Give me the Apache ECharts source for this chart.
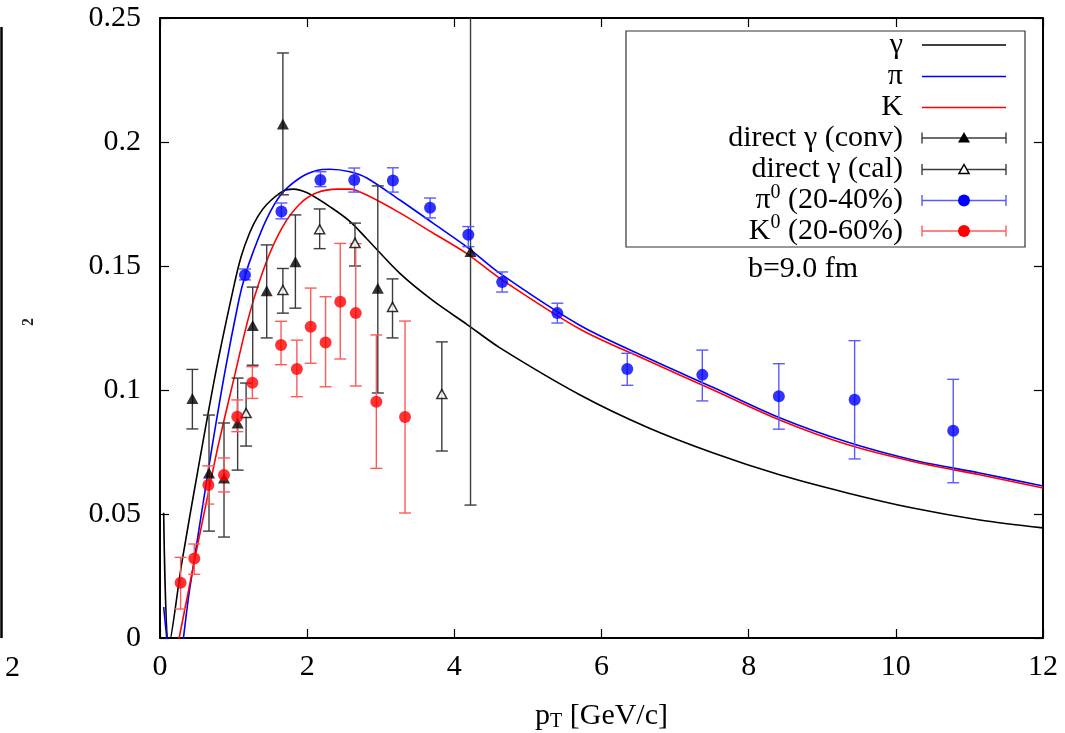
<!DOCTYPE html>
<html><head><meta charset="utf-8">
<script src="https://cdn.jsdelivr.net/npm/echarts@6/dist/echarts.min.js"></script>
<style>html,body{margin:0;padding:0;background:#fff}#c{width:1065px;height:733px}</style>
</head><body><div id="c"></div>
<script>
// ---- tick values ----
const xTickMin = 0, xTickMax = 12, xTickStep = 2;
const yTickMin = 0, yTickMax = 0.25, yTickStep = 0.05;

// ---- theory curves ----
const gammaX = [0.05,0.12,0.3,0.54,0.77,0.99,1.1,1.22,1.33,1.45,1.67,1.81,2.0,2.33,2.58,2.81,3.26,3.71,4.17,4.62,5.71,6.62,7.52,8.43,9.34,10.23,11.14,12];
const gammaY = [0.0505,-0.003,0.031,0.0718,0.109,0.140,0.1535,0.1635,0.170,0.1748,0.1802,0.181,0.1795,0.1735,0.168,0.161,0.147,0.136,0.1265,0.117,0.098,0.085,0.0746,0.0657,0.0585,0.0524,0.0476,0.0444];
const piX = [0.05,0.2,0.4,0.68,0.88,1.07,1.155,1.27,1.45,1.65,1.9,2.13,2.31,2.58,2.81,3.26,3.71,4.17,4.62,5.71,6.62,7.52,8.43,9.34,10.23,11.14,12];
const piY = [0.0125,-0.02,0.019,0.072,0.107,0.136,0.146,0.156,0.169,0.179,0.1855,0.1885,0.189,0.188,0.1855,0.1766,0.1673,0.1577,0.147,0.126,0.113,0.101,0.0887,0.079,0.0718,0.0665,0.0613];
const kX = [0.05,0.26,0.75,1.0,1.22,1.45,1.67,1.9,2.13,2.41,2.58,2.81,3.26,3.71,4.17,4.62,5.71,6.62,7.52,8.43,9.34,10.23,11.14,12];
const kY = [-0.035,0,0.072,0.104,0.131,0.152,0.166,0.175,0.1795,0.181,0.181,0.1786,0.1714,0.1633,0.155,0.145,0.1245,0.112,0.100,0.0878,0.078,0.0712,0.0658,0.0605];

// ---- data points: x, y, low, high ----
const convX  = [0.44,0.666,0.87,1.055,1.26,1.45,1.67,1.84,2.96,4.22];
const convY  = [0.0966,0.0665,0.0645,0.0867,0.126,0.140,0.2073,0.1517,0.141,0.1558];
const convLo = [0.0843,0.0431,0.0407,0.0677,0.110,0.121,0.1787,0.133,0.0988,0.0536];
const convHi = [0.1083,0.0899,0.0867,0.1048,0.1415,0.1585,0.2359,0.1706,0.1823,0.258];

const calX  = [1.17,1.67,2.17,2.65,3.16,3.83];
const calY  = [0.0907,0.1403,0.1648,0.1593,0.1335,0.0984];
const calLo = [0.0774,0.131,0.157,0.150,0.121,0.0754];
const calHi = [0.1028,0.149,0.173,0.1673,0.1448,0.1194];

const pi0X  = [1.155,1.65,2.18,2.64,3.165,3.67,4.19,4.65,5.40,6.35,7.37,8.41,9.44,10.78];
const pi0Y  = [0.1464,0.172,0.1847,0.1847,0.1845,0.1735,0.1626,0.1435,0.131,0.1085,0.1061,0.0975,0.0961,0.0836];
const pi0Lo = [0.1444,0.169,0.182,0.1798,0.1798,0.1694,0.1578,0.1395,0.127,0.1019,0.0956,0.0842,0.0722,0.0626];
const pi0Hi = [0.1488,0.1754,0.188,0.1895,0.1896,0.1774,0.1659,0.1476,0.135,0.1148,0.1161,0.1106,0.1199,0.1043];

const k0X  = [0.28,0.466,0.657,0.87,1.05,1.255,1.645,1.86,2.048,2.25,2.45,2.66,2.94,3.33];
const k0Y  = [0.0223,0.0321,0.0617,0.0657,0.0892,0.1029,0.1181,0.1085,0.1255,0.1192,0.1356,0.131,0.0953,0.0891];
const k0Lo = [0.0117,0.0257,0.054,0.0589,0.0832,0.0966,0.1102,0.0973,0.1108,0.1013,0.1125,0.1016,0.0684,0.0504];
const k0Hi = [0.0325,0.0379,0.0694,0.0726,0.096,0.1094,0.1277,0.1201,0.1411,0.1376,0.1591,0.159,0.1222,0.1278];

// ---- text ----
const legendLabels = ['γ','π','K','direct γ (conv)','direct γ (cal)','π0 (20-40%)','K0 (20-60%)'];
const noteText = 'b=9.0 fm';

const FONT = 'Liberation Serif';
const BLACK = '#000000', BLUE = '#0000ff', RED = '#ff0000';
const BAR_BLACK = '#3c3c3c', BAR_BLUE = '#5a5aff', BAR_RED = '#ff5a5a';

const pairs = (X, Y) => X.map((x, i) => [x, Y[i]]);
const quads = (X, Y, L, H) => X.map((x, i) => [x, Y[i], L[i], H[i]]);

function errBar(color) {
  return function (params, api) {
    const x = api.value(0), lo = api.value(2), hi = api.value(3);
    const pLo = api.coord([x, lo]), pHi = api.coord([x, hi]);
    const cs = params.coordSys;
    const top = cs.y, bot = cs.y + cs.height;
    const yHi = Math.max(pHi[1], top), yLo = Math.min(pLo[1], bot);
    const cx = pLo[0], w = 6;
    const st = { stroke: color, lineWidth: 1.4 };
    const ch = [{ type: 'line', shape: { x1: cx, y1: yHi, x2: cx, y2: yLo }, style: st }];
    if (pHi[1] >= top) ch.push({ type: 'line', shape: { x1: cx - w, y1: yHi, x2: cx + w, y2: yHi }, style: st });
    if (pLo[1] <= bot) ch.push({ type: 'line', shape: { x1: cx - w, y1: yLo, x2: cx + w, y2: yLo }, style: st });
    return { type: 'group', children: ch };
  };
}

const axisCommon = {
  axisLine: { show: true, onZero: false, lineStyle: { color: '#000', width: 2 } },
  axisTick: { show: true, inside: true, length: 9, lineStyle: { color: '#000', width: 1.2 } },
  splitLine: { show: false },
};

const chart = echarts.init(document.getElementById('c'), null, { renderer: 'canvas' });

// legend graphic
const lgRowY = [45, 76.5, 107.5, 138, 169.5, 200.5, 231];
const lgTextX = 903, lgL = 922, lgR = 1006, lgM = 964;
const lgFont = 30;
const g = [];
g.push({ type: 'rect', shape: { x: 626, y: 31, width: 399, height: 216 }, style: { fill: 'none', stroke: '#333', lineWidth: 1.2 }, z: 10 });
const rich = {
  a: { fontFamily: FONT, fontSize: lgFont, fill: '#000' },
  s: { fontFamily: FONT, fontSize: 20, fill: '#000', verticalAlign: 'top', padding: [0, 0, 16, 0] }
};
legendLabels.forEach((lab, i) => {
  let txt;
  if (i === 5) txt = '{a|π}{s|0}{a| (20-40%)}';
  else if (i === 6) txt = '{a|K}{s|0}{a| (20-60%)}';
  else txt = '{a|' + lab + '}';
  g.push({ type: 'text', x: lgTextX, y: lgRowY[i], z: 11,
    style: { text: txt, rich: rich, align: 'right', verticalAlign: 'middle', fontFamily: FONT, fontSize: lgFont } });
});
const lineCols = [BLACK, BLUE, RED];
for (let i = 0; i < 3; i++) {
  g.push({ type: 'line', z: 11, shape: { x1: lgL, y1: lgRowY[i], x2: lgR, y2: lgRowY[i] }, style: { stroke: lineCols[i], lineWidth: 1.4 } });
}
const barCols = [BAR_BLACK, BAR_BLACK, BAR_BLUE, BAR_RED];
for (let j = 0; j < 4; j++) {
  const y = lgRowY[3 + j], c = barCols[j];
  g.push({ type: 'line', z: 11, shape: { x1: lgL, y1: y, x2: lgR, y2: y }, style: { stroke: c, lineWidth: 1.4 } });
  g.push({ type: 'line', z: 11, shape: { x1: lgL, y1: y - 5.5, x2: lgL, y2: y + 5.5 }, style: { stroke: c, lineWidth: 1.4 } });
  g.push({ type: 'line', z: 11, shape: { x1: lgR, y1: y - 5.5, x2: lgR, y2: y + 5.5 }, style: { stroke: c, lineWidth: 1.4 } });
}
g.push({ type: 'polygon', z: 12, shape: { points: [[lgM, lgRowY[3] - 6], [lgM - 6, lgRowY[3] + 4.5], [lgM + 6, lgRowY[3] + 4.5]] }, style: { fill: '#000' } });
g.push({ type: 'polygon', z: 12, shape: { points: [[lgM, lgRowY[4] - 5], [lgM - 5, lgRowY[4] + 4], [lgM + 5, lgRowY[4] + 4]] }, style: { fill: '#fff', stroke: '#000', lineWidth: 1.5 } });
g.push({ type: 'circle', z: 12, shape: { cx: lgM, cy: lgRowY[5], r: 6 }, style: { fill: BLUE } });
g.push({ type: 'circle', z: 12, shape: { cx: lgM, cy: lgRowY[6], r: 6 }, style: { fill: RED } });
g.push({ type: 'text', x: 803, y: 269, z: 11, style: { text: noteText, align: 'center', verticalAlign: 'middle', fontFamily: FONT, fontSize: lgFont, fill: '#000' } });
// fragment of neighbouring panel at left edge
g.push({ type: 'line', shape: { x1: 1.5, y1: 27, x2: 1.5, y2: 638 }, style: { stroke: '#000', lineWidth: 2.5 } });
g.push({ type: 'text', x: 5, y: 668, style: { text: '2', align: 'left', verticalAlign: 'middle', fontFamily: FONT, fontSize: 30, fill: '#000' } });
g.push({ type: 'text', x: 29, y: 322, rotation: Math.PI / 2, style: { text: '2', align: 'center', verticalAlign: 'middle', fontFamily: FONT, fontSize: 16, fontWeight: 'bold', fill: '#222' } });

const option = {
  animation: false,
  backgroundColor: '#fff',
  grid: { left: 160, right: 22, top: 18, bottom: 95, containLabel: false, outerBoundsMode: 'none' },
  xAxis: [
    Object.assign({ type: 'value', position: 'bottom', min: xTickMin, max: xTickMax, interval: xTickStep,
      axisLabel: { color: '#000', fontFamily: FONT, fontSize: 30, margin: 14 },
      name: '{a|p}{b|T}{a| [GeV/c]}', nameLocation: 'middle', nameGap: 62,
      nameTextStyle: { rich: { a: { fontFamily: FONT, fontSize: 30, color: '#000' }, b: { fontFamily: FONT, fontSize: 20, color: '#000', verticalAlign: 'bottom', padding: [12, 0, 0, 0] } } } }, axisCommon),
    Object.assign({ type: 'value', position: 'top', min: xTickMin, max: xTickMax, interval: xTickStep, axisLabel: { show: false } }, axisCommon)
  ],
  yAxis: [
    Object.assign({ type: 'value', position: 'left', min: yTickMin, max: yTickMax, interval: yTickStep,
      axisLabel: { color: '#000', fontFamily: FONT, fontSize: 30, margin: 19 } }, axisCommon),
    Object.assign({ type: 'value', position: 'right', min: yTickMin, max: yTickMax, interval: yTickStep, axisLabel: { show: false } }, axisCommon)
  ],
  graphic: g,
  series: [
    { name: 'γ', type: 'line', data: pairs(gammaX, gammaY), showSymbol: false, clip: true, smooth: 0.3, lineStyle: { color: BLACK, width: 1.6 }, z: 2 },
    { name: 'π', type: 'line', data: pairs(piX, piY), showSymbol: false, clip: true, smooth: 0.3, lineStyle: { color: BLUE, width: 1.6 }, z: 2 },
    { name: 'K', type: 'line', data: pairs(kX, kY), showSymbol: false, clip: true, smooth: 0.3, lineStyle: { color: RED, width: 1.6 }, z: 2 },
    { type: 'custom', data: quads(convX, convY, convLo, convHi), renderItem: errBar(BAR_BLACK), z: 3 },
    { type: 'custom', data: quads(calX, calY, calLo, calHi), renderItem: errBar(BAR_BLACK), z: 3 },
    { type: 'custom', data: quads(pi0X, pi0Y, pi0Lo, pi0Hi), renderItem: errBar(BAR_BLUE), z: 3 },
    { type: 'custom', data: quads(k0X, k0Y, k0Lo, k0Hi), renderItem: errBar(BAR_RED), z: 3 },
    { name: 'direct γ (conv)', type: 'scatter', data: pairs(convX, convY), symbol: 'triangle', symbolSize: [12, 11], itemStyle: { color: '#000' }, z: 4 },
    { name: 'direct γ (cal)', type: 'scatter', data: pairs(calX, calY), symbol: 'triangle', symbolSize: [10, 9], itemStyle: { color: '#fff', borderColor: '#000', borderWidth: 1.5 }, z: 4 },
    { name: 'π0 (20-40%)', type: 'scatter', data: pairs(pi0X, pi0Y), symbol: 'circle', symbolSize: 12, itemStyle: { color: BLUE }, z: 4 },
    { name: 'K0 (20-60%)', type: 'scatter', data: pairs(k0X, k0Y), symbol: 'circle', symbolSize: 12, itemStyle: { color: RED }, z: 4 }
  ]
};
chart.setOption(option);
</script></body></html>
